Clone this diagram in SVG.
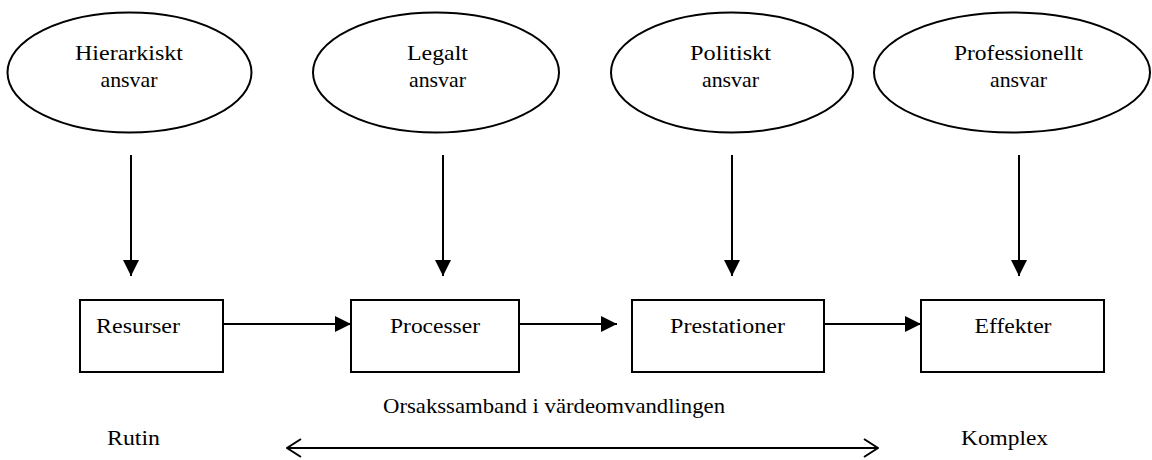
<svg xmlns="http://www.w3.org/2000/svg" width="1152" height="460" viewBox="0 0 1152 460">
<style>
.shape{fill:#fff;stroke:#000;stroke-width:2}
.t{font-family:'Liberation Serif','Times New Roman',Times,serif;font-size:22px;fill:#000;text-anchor:middle}
.ln{stroke:#000;stroke-width:2;fill:none}
</style>
<defs>
<marker id="ah" viewBox="0 0 16 16" refX="16" refY="8" markerWidth="16" markerHeight="16" markerUnits="userSpaceOnUse" orient="auto">
<path d="M0,0 L16,8 L0,16 Z" fill="#000"/>
</marker>
<marker id="oa" viewBox="0 0 16 20" refX="15" refY="10" markerWidth="16" markerHeight="20" markerUnits="userSpaceOnUse" orient="auto-start-reverse">
<path d="M1,1 L15,10 L1,19" fill="none" stroke="#000" stroke-width="2"/>
</marker>
</defs>
<rect width="1152" height="460" fill="#fff"/>
<g id="hierarkiskt">
<ellipse class="shape" cx="129.5" cy="72.5" rx="122" ry="60"/>
<text class="t" x="129" y="60" textLength="108" lengthAdjust="spacingAndGlyphs">Hierarkiskt</text>
<text class="t" x="129" y="87" textLength="57" lengthAdjust="spacingAndGlyphs">ansvar</text>
</g>
<g id="legalt">
<ellipse class="shape" cx="436" cy="72.5" rx="123" ry="60"/>
<text class="t" x="437.5" y="60" textLength="61" lengthAdjust="spacingAndGlyphs">Legalt</text>
<text class="t" x="437.5" y="87" textLength="57" lengthAdjust="spacingAndGlyphs">ansvar</text>
</g>
<g id="politiskt">
<ellipse class="shape" cx="732" cy="72.5" rx="121" ry="60"/>
<text class="t" x="730.5" y="60" textLength="81" lengthAdjust="spacingAndGlyphs">Politiskt</text>
<text class="t" x="730.5" y="87" textLength="57" lengthAdjust="spacingAndGlyphs">ansvar</text>
</g>
<g id="professionellt">
<ellipse class="shape" cx="1012" cy="72.5" rx="138" ry="60"/>
<text class="t" x="1018.5" y="60" textLength="129" lengthAdjust="spacingAndGlyphs">Professionellt</text>
<text class="t" x="1018.5" y="87" textLength="57" lengthAdjust="spacingAndGlyphs">ansvar</text>
</g>
<g id="resurser">
<rect class="shape" x="80" y="300" width="143" height="72"/>
<text class="t" x="138" y="333" textLength="84" lengthAdjust="spacingAndGlyphs">Resurser</text>
</g>
<g id="processer">
<rect class="shape" x="351" y="300" width="168" height="72"/>
<text class="t" x="435" y="333" textLength="90" lengthAdjust="spacingAndGlyphs">Processer</text>
</g>
<g id="prestationer">
<rect class="shape" x="632" y="300" width="192" height="72"/>
<text class="t" x="727.5" y="333" textLength="115" lengthAdjust="spacingAndGlyphs">Prestationer</text>
</g>
<g id="effekter">
<rect class="shape" x="921" y="300" width="183" height="72"/>
<text class="t" x="1013" y="333" textLength="77" lengthAdjust="spacingAndGlyphs">Effekter</text>
</g>
<g id="connectors">
<line class="ln" x1="131" y1="155" x2="131" y2="276" marker-end="url(#ah)"/>
<line class="ln" x1="443" y1="155" x2="443" y2="276" marker-end="url(#ah)"/>
<line class="ln" x1="732" y1="155" x2="732" y2="276" marker-end="url(#ah)"/>
<line class="ln" x1="1019" y1="155" x2="1019" y2="276" marker-end="url(#ah)"/>
<line class="ln" x1="223" y1="324" x2="351" y2="324" marker-end="url(#ah)"/>
<line class="ln" x1="519" y1="324" x2="617" y2="324" marker-end="url(#ah)"/>
<line class="ln" x1="824" y1="324" x2="921" y2="324" marker-end="url(#ah)"/>
<line class="ln" x1="287" y1="448" x2="878" y2="448" marker-start="url(#oa)" marker-end="url(#oa)"/>
</g>
<g id="labels">
<text class="t" x="554" y="413" textLength="342" lengthAdjust="spacingAndGlyphs">Orsakssamband i värdeomvandlingen</text>
<text class="t" x="133.5" y="445" textLength="53" lengthAdjust="spacingAndGlyphs">Rutin</text>
<text class="t" x="1004.5" y="445" textLength="87" lengthAdjust="spacingAndGlyphs">Komplex</text>
</g>
</svg>
